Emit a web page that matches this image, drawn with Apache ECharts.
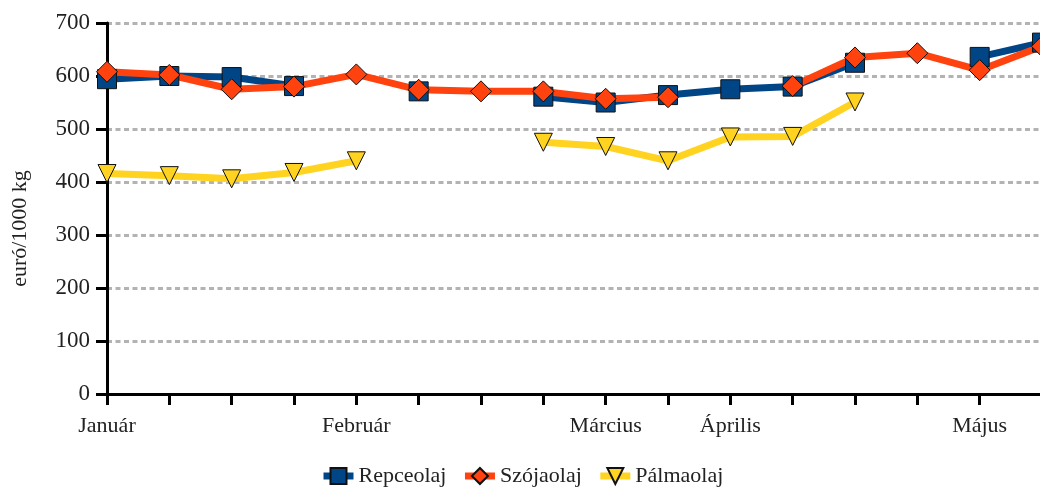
<!DOCTYPE html>
<html>
<head>
<meta charset="utf-8">
<script src="https://cdn.jsdelivr.net/npm/echarts@6/dist/echarts.min.js"></script>
<style>
html, body { margin: 0; padding: 0; background: #fff; }
#container { width: 1040px; height: 487px; }
</style>
</head>
<body>
<div id="container"></div>
<script>
// weekly points, month names only under some of them
var weeks = ['1','2','3','4','5','6','7','8','9','10','11','12','13','14','15','16'];
var tickLabels = ['Január','','','','Február','','','','Március','','Április','','','','Május',''];

var repce = [594, 600, 598, 581, null, 571, null, 561, 550, 564, 575, 580, 625, null, 636, 663];
var szoja = [608, 602, 575, 580, 603, 574, 571, 571, 557, 560, null, 581, 635, 643, 611, 656];
var palma = [416, 412, 406, 418, 440, null, null, 475, 467, 440, 485, 486, 551, null, null, null];

var font = 'Liberation Serif';

var dom = document.getElementById('container');
var myChart = echarts.init(dom);

var option = {
    animation: false,
    backgroundColor: '#fff',
    textStyle: { fontFamily: font },
    grid: { left: 107, width: 935, top: 23, bottom: 93, outerBoundsMode: 'none' },
    legend: {
        top: 465,
        left: 320,
        padding: 0,
        itemWidth: 30,
        itemHeight: 20,
        itemGap: 15,
        lineStyle: { width: 7 },
        textStyle: { fontFamily: font, fontSize: 22, color: '#222' },
        data: ['Repceolaj', 'Szójaolaj', 'Pálmaolaj']
    },
    xAxis: {
        type: 'category',
        boundaryGap: false,
        data: weeks,
        axisLine: { lineStyle: { color: '#000', width: 3 } },
        axisTick: { length: 11, lineStyle: { color: '#000', width: 3 } },
        axisLabel: {
            interval: 0,
            margin: 21,
            fontFamily: font,
            fontSize: 22,
            color: '#222',
            formatter: function (v, i) { return tickLabels[i]; }
        },
        splitLine: { show: false }
    },
    yAxis: {
        type: 'value',
        min: 0,
        max: 700,
        interval: 100,
        name: 'euró/1000 kg',
        nameLocation: 'middle',
        nameGap: 76,
        nameTextStyle: { fontFamily: font, fontSize: 22, color: '#222', padding: [0, 40, 0, 0] },
        axisLine: { show: true, lineStyle: { color: '#000', width: 3 } },
        axisTick: { show: true, length: 11, lineStyle: { color: '#000', width: 3 } },
        axisLabel: { margin: 17, fontFamily: font, fontSize: 23, color: '#222' },
        splitLine: { lineStyle: { color: '#b3b3b3', width: 3, type: [5, 3.5] } }
    },
    series: [
        {
            name: 'Repceolaj',
            type: 'line',
            data: repce,
            showAllSymbol: true,
            symbol: 'rect',
            symbolSize: 19,
            lineStyle: { color: '#004586', width: 7 },
            itemStyle: { color: '#004586', borderColor: '#111', borderWidth: 1 }
        },
        {
            name: 'Szójaolaj',
            type: 'line',
            data: szoja,
            showAllSymbol: true,
            symbol: 'diamond',
            symbolSize: 21,
            lineStyle: { color: '#ff420e', width: 7 },
            itemStyle: { color: '#ff420e', borderColor: '#111', borderWidth: 1 }
        },
        {
            name: 'Pálmaolaj',
            type: 'line',
            data: palma,
            showAllSymbol: true,
            symbol: 'triangle',
            symbolRotate: 180,
            symbolSize: 18,
            lineStyle: { color: '#ffd320', width: 7 },
            itemStyle: { color: '#ffd320', borderColor: '#111', borderWidth: 1 }
        }
    ]
};

myChart.setOption(option, true);
</script>
</body>
</html>
